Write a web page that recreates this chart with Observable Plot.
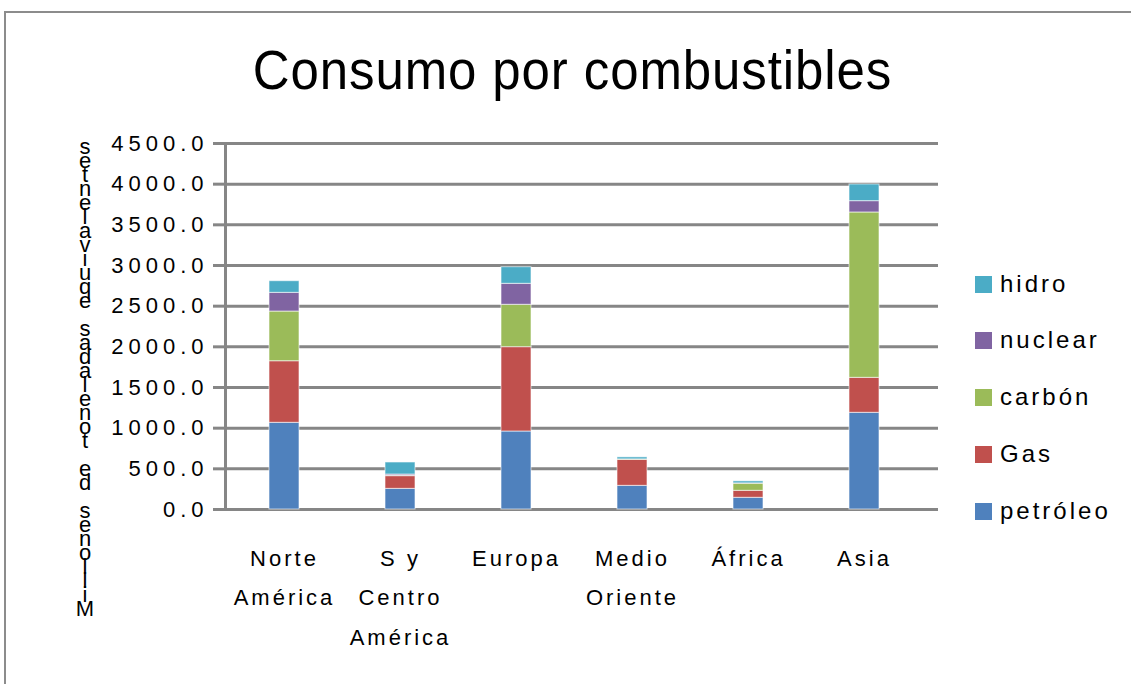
<!DOCTYPE html>
<html>
<head>
<meta charset="utf-8">
<script src="https://cdn.jsdelivr.net/npm/d3@7"></script>
<script src="https://cdn.jsdelivr.net/npm/@observablehq/plot@0.6"></script>
<style>
  html, body { margin: 0; padding: 0; background: #fff; }
  #wrap { position: relative; width: 1131px; height: 684px; overflow: hidden; font-family: "Liberation Sans", Arial, sans-serif; color: #000; }
  #border { position: absolute; left: 4px; top: 11px; width: 1200px; height: 700px; border-left: 2px solid #8c8c8c; border-top: 2px solid #8c8c8c; }
  #title { position: absolute; left: 0; width: 1145px; top: 42px; text-align: center; font-size: 56px; letter-spacing: 1px; line-height: 1; transform: scaleX(0.91); transform-origin: 572px 0; white-space: nowrap; }
  #chart { position: absolute; left: 0; top: 120px; }
  #chart svg g[aria-label="y-axis tick label"] { letter-spacing: 5px; }
  #ytitle { position: absolute; left: 70px; width: 30px; top: 140px; height: 476px; display: flex; flex-direction: column-reverse; align-items: center; font-size: 22px; }
  #ytitle span { display: block; height: 14px; line-height: 14px; overflow: visible; }
  #legend { position: absolute; left: 975px; top: 0; font-size: 24px; letter-spacing: 3px; }
  .item { position: absolute; left: 0; white-space: nowrap; display: flex; align-items: center; height: 30px; }
  .sw { width: 17px; height: 17px; margin-right: 8px; }
</style>
</head>
<body>
<div id="wrap">
  <div id="border"></div>
  <div id="title">Consumo por combustibles</div>
  <div id="ytitle"></div>
  <div id="chart"></div>
  <div id="legend"></div>
</div>
<script>
const categories = ["Norte\nAmérica", "S y\nCentro\nAmérica", "Europa", "Medio\nOriente", "África", "Asia"];
const fuels = ["petróleo", "Gas", "carbón", "nuclear", "hidro"];
const colors = ["#4F81BD", "#C0504D", "#9BBB59", "#8064A2", "#4BACC6"];
const petroleo = [1066, 254, 959, 291, 144, 1189];
const gas = [757, 156, 1037, 320, 86, 430];
const carbon = [611, 5, 521, 5, 88, 2033];
const nuclear = [230, 15, 258, 0, 3, 139];
const hidro = [143, 148, 204, 25, 25, 205];
const yTicks = [0, 500, 1000, 1500, 2000, 2500, 3000, 3500, 4000, 4500];
const yTitle = "Millones de toneladas equivalentes";

const series = [petroleo, gas, carbon, nuclear, hidro];
const data = [];
categories.forEach((c, i) => {
  fuels.forEach((f, j) => data.push({region: c, fuel: f, value: series[j][i]}));
});

const plot = Plot.plot({
  width: 1131,
  height: 564,
  marginLeft: 225,
  marginRight: 208,
  marginTop: 23,
  marginBottom: 175,
  style: {fontFamily: "'Liberation Sans', Arial, sans-serif", fontSize: "22px", letterSpacing: "3px", color: "#000", background: "transparent", overflow: "visible"},
  x: {domain: categories, paddingInner: 0.742, paddingOuter: 0.371, label: null},
  y: {domain: [0, 4500], label: null},
  color: {domain: fuels, range: colors},
  marks: [
    Plot.ruleY(yTicks, {stroke: "#868686", strokeWidth: 3, insetRight: -15}),
    Plot.barY(data, {x: "region", y: "value", fill: "fuel", stroke: "#ffffff", strokeOpacity: 0.6, strokeWidth: 1}),
    Plot.axisY({ticks: yTicks, tickFormat: d => d.toFixed(1), tickSize: 12, tickPadding: 5, stroke: "#868686", strokeWidth: 3, label: null}),
    Plot.axisX({tickSize: 0, tickPadding: 28, lineHeight: 1.8, label: null}),
    Plot.frame({anchor: "left", stroke: "#868686", strokeWidth: 3})
  ]
});
document.getElementById("chart").appendChild(plot);

const yt = document.getElementById("ytitle");
for (const ch of yTitle) {
  const s = document.createElement("span");
  s.textContent = ch === " " ? "\u00a0" : ch;
  yt.appendChild(s);
}

const legend = document.getElementById("legend");
const legendY = [284, 340, 397, 454, 511];
fuels.slice().reverse().forEach((f, k) => {
  const it = document.createElement("div");
  it.className = "item";
  it.style.top = (legendY[k] - 15) + "px";
  const sw = document.createElement("div");
  sw.className = "sw";
  sw.style.background = colors[fuels.indexOf(f)];
  const t = document.createElement("span");
  t.textContent = f;
  it.appendChild(sw);
  it.appendChild(t);
  legend.appendChild(it);
});
</script>
</body>
</html>
